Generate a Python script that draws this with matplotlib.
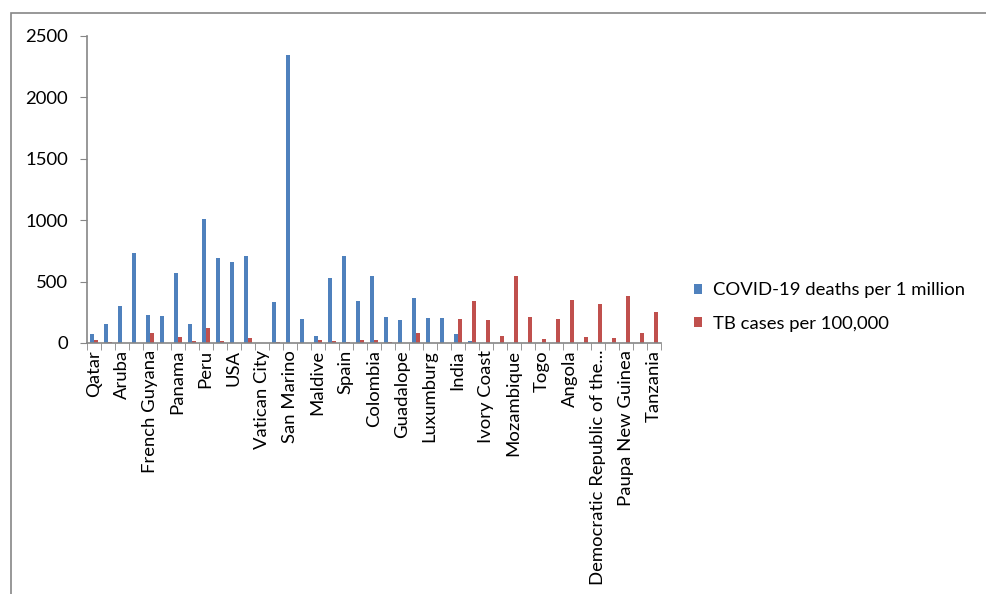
import matplotlib
matplotlib.use("Agg")
import matplotlib.pyplot as plt
from matplotlib.patches import Rectangle
import numpy as np

plt.rcParams['font.family'] = ['Lato', 'DejaVu Sans']

# Category labels (only every other category carries a visible label)
labels = [
    "Qatar", "", "Aruba", "", "French Guyana", "", "Panama", "", "Peru", "",
    "USA", "", "Vatican City", "", "San Marino", "", "Maldive", "", "Spain", "",
    "Colombia", "", "Guadalope", "", "Luxumburg", "", "India", "", "Ivory Coast", "",
    "Mozambique", "", "Togo", "", "Angola", "", "Democratic Republic of the...", "",
    "Paupa New Guinea", "", "Tanzania",
]

covid_deaths = [
    76, 158, 304, 734, 225, 217, 573, 155, 1008, 696,
    663, 707, 0, 334, 2342, 198, 60, 533, 707, 345,
    546, 212, 190, 364, 206, 204, 76, 16, 0, 0,
    0, 0, 0, 0, 0, 0, 0, 0, 0, 0, 0,
]

tb_cases = [
    27, 10, 0, 0, 82, 0, 49, 19, 122, 16,
    0, 41, 0, 11, 0, 0, 27, 19, 10, 24,
    27, 8, 0, 84, 0, 0, 196, 345, 190, 54,
    549, 215, 33, 198, 353, 49, 321, 44, 386, 84, 253,
]

series_names = ["COVID-19 deaths per 1 million", "TB cases per 100,000"]
blue = "#4F81BD"
red = "#C0504D"
axis_grey = "#868686"
fs = 13.3

fig = plt.figure(figsize=(9.86, 5.94), dpi=100)
ax = fig.add_axes([0.0879, 0.4226, 0.5822, 0.5168])

x = np.arange(len(labels))
w = 0.28
ax.bar(x - w / 2, covid_deaths, width=w, color=blue, label=series_names[0])
ax.bar(x + w / 2, tb_cases, width=w, color=red, label=series_names[1])

ax.set_xlim(-0.5, len(labels) - 0.5)
ax.set_ylim(0, 2500)
ax.set_yticks(np.arange(0, 2501, 500))
ax.tick_params(axis='y', labelsize=fs, length=5, color=axis_grey, pad=8.5)

ax.set_xticks(x)
ax.set_xticklabels(labels, rotation=90, fontsize=fs)
ax.tick_params(axis='x', length=0, pad=5)
ax.set_xticks(np.arange(-0.5, len(labels)), minor=True)
ax.tick_params(axis='x', which='minor', length=5, color=axis_grey)

for s in ("top", "right"):
    ax.spines[s].set_visible(False)
for s in ("left", "bottom"):
    ax.spines[s].set_color(axis_grey)
    ax.spines[s].set_linewidth(1.2)

leg = fig.legend(loc="center left", bbox_to_anchor=(694 / 986, 1 - 307 / 594),
                 frameon=False, fontsize=fs, handlelength=0.45, handleheight=0.45,
                 handletextpad=0.6, labelspacing=0.95, borderpad=0,
                 borderaxespad=0)

# Chart area border
fig.patches.append(Rectangle((11 / 986, -0.1), 1.2, 1 - 12.5 / 594 + 0.1,
                             transform=fig.transFigure, fill=False,
                             edgecolor=axis_grey, linewidth=1.2))

fig.savefig("out.png", dpi=100, facecolor="white")
